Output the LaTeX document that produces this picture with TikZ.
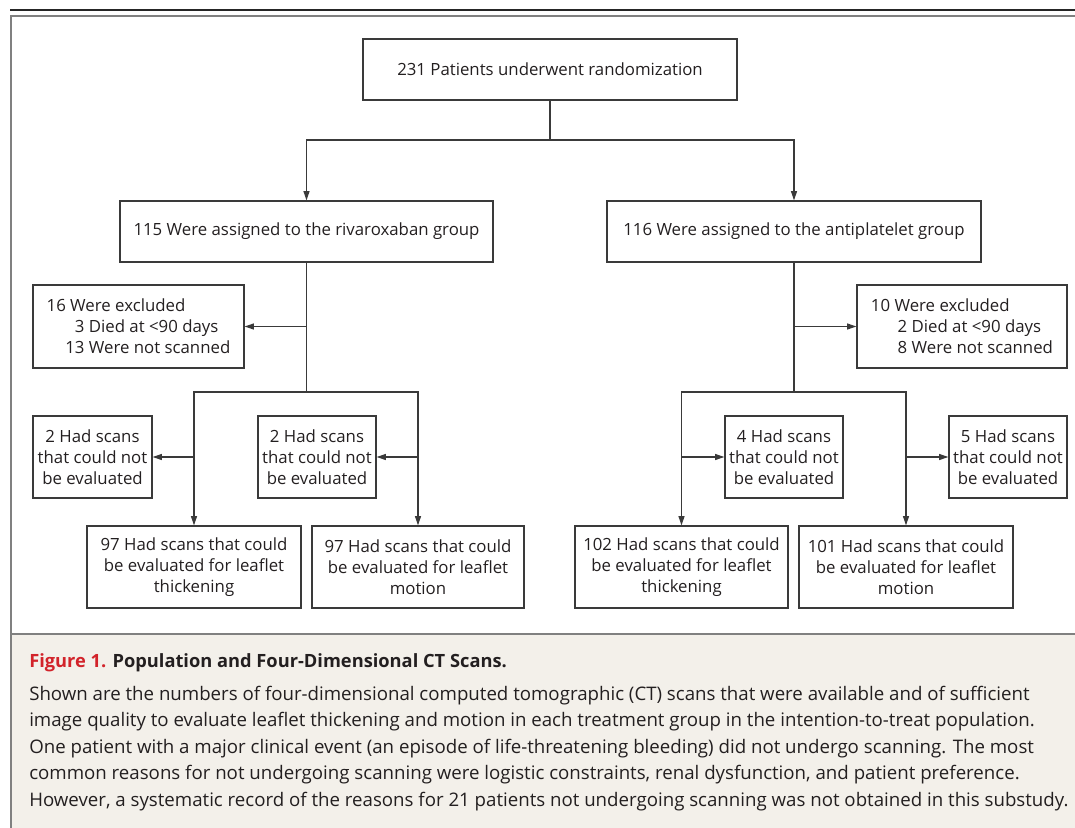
\documentclass[tikz,border=0pt]{standalone}
\usepackage{fontspec}
\setmainfont{Open Sans}
\usetikzlibrary{arrows.meta}
\definecolor{lineC}{HTML}{3A3A3A}
\definecolor{frameC}{HTML}{808080}
\definecolor{capbg}{HTML}{F3F0EA}
\definecolor{figred}{HTML}{D2232A}
\definecolor{txt}{HTML}{231F20}
\begin{document}
\begin{tikzpicture}[x=0.75pt,y=-0.75pt,
  box/.style={draw=lineC,line width=0.9pt,align=center,inner sep=0pt,text=txt,
    font=\fontsize{12.6}{15.75}\selectfont},
  wh/.style 2 args={minimum width=#1*0.75pt,minimum height=#2*0.75pt},
  conn/.style={draw=lineC,line width=0.9pt},
  arr/.style={conn,-{Triangle[length=7pt,width=4.5pt]}},
  capline/.style={anchor=base west,inner sep=0pt,text=txt,font=\fontsize{14.0}{19}\selectfont}]
\useasboundingbox (0,0) rectangle (1075,828);
% frame and caption panel
\fill[capbg] (11,634) rectangle (1075,828);
\draw[black!85,line width=1.4pt] (10,10) -- (1075,10);
\draw[frameC,line width=1.5pt] (11,828) -- (11,16) -- (1075,16);
\draw[frameC,line width=1.5pt] (11,634) -- (1075,634);
% boxes
\node[box,wh={374}{61}] (top) at (550,69.5) {231 Patients underwent randomization};
\node[box,wh={373}{61}] (riva) at (306.5,231.5) {115 Were assigned to the rivaroxaban group};
\node[box,wh={374}{61}] (anti) at (794,231.5) {116 Were assigned to the antiplatelet group};
\node[box,wh={211}{83},align=left] (exL) at (138.5,326.5) {16 Were excluded\\\hspace*{14pt}\hphantom{1}3 Died at <90 days\\\hspace*{14pt}13 Were not scanned};
\node[box,wh={210}{83},align=left] (exR) at (962,326.5) {10 Were excluded\\\hspace*{20pt}2 Died at <90 days\\\hspace*{20pt}8 Were not scanned};
\node[box,wh={119}{82}] (sL1) at (92.5,457) {2 Had scans\\that could not\\be evaluated};
\node[box,wh={118}{82}] (sL2) at (317,457) {2 Had scans\\that could not\\be evaluated};
\node[box,wh={118}{82}] (sR1) at (784,457) {4 Had scans\\that could not\\be evaluated};
\node[box,wh={118}{82}] (sR2) at (1008,457) {5 Had scans\\that could not\\be evaluated};
\node[box,wh={214}{82}] (b1) at (194,567) {97 Had scans that could\\be evaluated for leaflet\\thickening};
\node[box,wh={212}{82}] (b2) at (418,567) {97 Had scans that could\\be evaluated for leaflet\\motion};
\node[box,wh={213}{82}] (b3) at (681.5,567) {102 Had scans that could\\be evaluated for leaflet\\thickening};
\node[box,wh={214}{82}] (b4) at (906,567) {101 Had scans that could\\be evaluated for leaflet\\motion};
% connector points
\coordinate (split) at (550,140);
\coordinate (rsplit) at (306.5,392);
\coordinate (asplit) at (794,392);
\coordinate (rex) at (306.5,326.5);
\coordinate (aex) at (794,326.5);
\coordinate (j1) at (194,457);
\coordinate (j2) at (418,457);
\coordinate (j3) at (681.5,457);
\coordinate (j4) at (906,457);
% connectors
\draw[conn] (top) -- (split);
\draw[arr] (split) -| (riva);
\draw[arr] (split) -| (anti);
\draw[conn] (riva) -- (rsplit);
\draw[conn] (anti) -- (asplit);
\draw[arr] (rex) -- (exL);
\draw[arr] (aex) -- (exR);
\draw[arr] (rsplit) -| (b1);
\draw[arr] (rsplit) -| (b2);
\draw[arr] (asplit) -| (b3);
\draw[arr] (asplit) -| (b4);
\draw[arr] (j1) -- (sL1);
\draw[arr] (j2) -- (sL2);
\draw[arr] (j3) -- (sR1);
\draw[arr] (j4) -- (sR2);
% caption
\node[capline,font=\fontsize{13.7}{18}\selectfont\bfseries] (ttl) at (29,667) {\textcolor{figred}{Figure 1.} Population and Four-Dimensional CT Scans.};
\node[capline] (c1) at (29,700) {Shown are the numbers of four-dimensional computed tomographic (CT) scans that were available and of sufficient};
\node[capline] (c2) at (29,726.5) {image quality to evaluate leaflet thickening and motion in each treatment group in the intention-to-treat population.};
\node[capline] (c3) at (29,753) {One patient with a major clinical event (an episode of life-threatening bleeding) did not undergo scanning. The most};
\node[capline] (c4) at (29,779.5) {common reasons for not undergoing scanning were logistic constraints, renal dysfunction, and patient preference.};
\node[capline] (c5) at (29,806) {However, a systematic record of the reasons for 21 patients not undergoing scanning was not obtained in this substudy.};
\end{tikzpicture}
\end{document}
